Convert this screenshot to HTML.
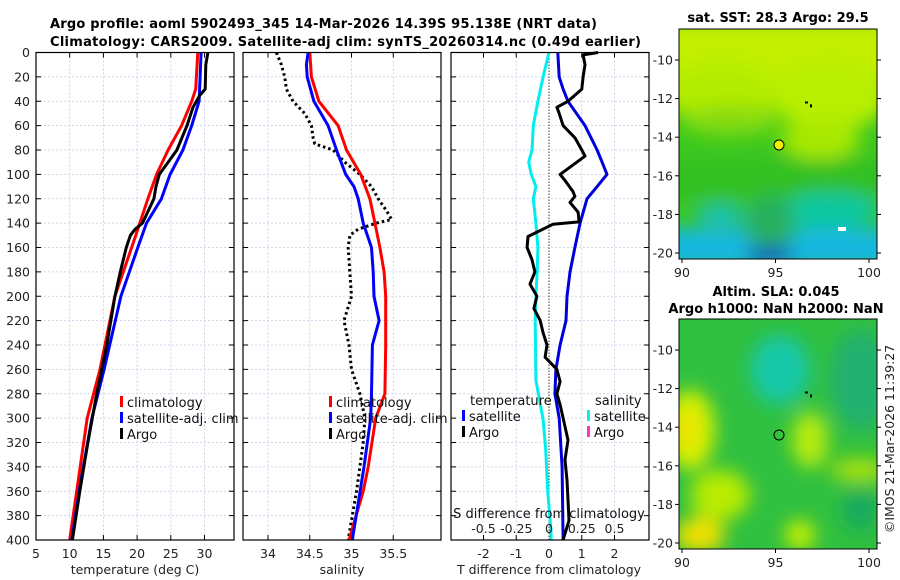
<!DOCTYPE html>
<html><head><meta charset="utf-8"><style>
html,body{margin:0;padding:0;background:#fff;}
svg{display:block;font-family:"DejaVu Sans","Liberation Sans",sans-serif;}
.tk{font-size:12.5px;fill:#222;}
.ttl{font-size:13px;font-weight:bold;fill:#000;}
.lg{font-size:13px;fill:#111;}
</style></head><body>
<svg id="fig" width="900" height="580" viewBox="0 0 900 580">
<defs>
<filter id="bl" x="-50%" y="-50%" width="200%" height="200%"><feGaussianBlur stdDeviation="9"/></filter>
<clipPath id="m1c"><rect x="679" y="29" width="198" height="230"/></clipPath>
<clipPath id="m2c"><rect x="679" y="319" width="198" height="230"/></clipPath>
</defs>
<text class="ttl" x="50" y="28" textLength="547">Argo profile: aoml 5902493_345 14-Mar-2026 14.39S 95.138E (NRT data)</text>
<text class="ttl" x="50" y="46" textLength="591">Climatology: CARS2009. Satellite-adj clim: synTS_20260314.nc (0.49d earlier)</text>
<g id="panels"></g>

<g>
<g clip-path="url(#m1c)">
<rect x="679" y="29" width="198" height="230" fill="#3cc820"/>
<g filter="url(#bl)">
<rect x="660" y="20" width="240" height="60" fill="#c4f000"/>
<ellipse cx="720" cy="90" rx="60" ry="30" fill="#b4ec00"/>
<ellipse cx="830" cy="95" rx="60" ry="35" fill="#b8ee00"/>
<ellipse cx="820" cy="140" rx="40" ry="20" fill="#a8e800"/>
<ellipse cx="730" cy="120" rx="50" ry="15" fill="#88dc10"/>
<rect x="660" y="160" width="240" height="40" fill="#30c020"/>
<ellipse cx="830" cy="210" rx="50" ry="18" fill="#10c8a0"/>
<rect x="660" y="228" width="240" height="40" fill="#14b8e0"/>
<ellipse cx="720" cy="215" rx="25" ry="10" fill="#18c0c0"/>
<ellipse cx="770" cy="225" rx="25" ry="30" fill="#28b060"/>
<ellipse cx="770" cy="255" rx="25" ry="8" fill="#1048c8"/>
</g>
</g>
<rect x="838" y="227" width="8" height="4" fill="#fff"/>
<rect x="679" y="29" width="198" height="230" fill="none" stroke="#000"/>
<circle cx="779" cy="145" r="5" fill="#f0f000" stroke="#000"/>
</g>
<text class="ttl" x="778" y="22" text-anchor="middle">sat. SST: 28.3 Argo: 29.5</text>

<g>
<g clip-path="url(#m2c)">
<rect x="679" y="319" width="198" height="230" fill="#30c040"/>
<g filter="url(#bl)">
<ellipse cx="780" cy="370" rx="30" ry="35" fill="#18c8a8"/>
<ellipse cx="860" cy="380" rx="30" ry="50" fill="#20b070"/>
<ellipse cx="690" cy="430" rx="25" ry="40" fill="#d8f000"/>
<ellipse cx="685" cy="430" rx="10" ry="20" fill="#f0e000"/>
<ellipse cx="810" cy="440" rx="18" ry="28" fill="#b8ec10"/>
<ellipse cx="860" cy="470" rx="30" ry="12" fill="#a8e010"/>
<ellipse cx="720" cy="495" rx="30" ry="25" fill="#b8ec00"/>
<ellipse cx="700" cy="535" rx="25" ry="18" fill="#f0e000"/>
<ellipse cx="800" cy="535" rx="15" ry="15" fill="#c8f000"/>
<ellipse cx="860" cy="510" rx="18" ry="20" fill="#18a860"/>
</g>
</g>
<rect x="679" y="319" width="198" height="230" fill="none" stroke="#000"/>
<circle cx="779" cy="435" r="5" fill="none" stroke="#000"/>
</g>
<text class="ttl" x="776" y="296" text-anchor="middle">Altim. SLA: 0.045</text>
<text class="ttl" x="776" y="313" text-anchor="middle">Argo h1000: NaN h2000: NaN</text>
<text class="tk" transform="translate(894,439) rotate(-90)" text-anchor="middle">©IMOS 21-Mar-2026 11:39:27</text>
<g id="mapaxes"></g>
</svg>
<script>
// ---- data ----
const climDepth = [0,30,40,60,80,100,120,140,150,200,260,300,400];
const climTemp = [29.0,28.7,28.1,26.6,24.6,22.9,21.6,20.4,19.8,16.7,14.5,12.6,10.0];
const satDepth = [0,40,60,80,100,120,140,160,200,260,300,350,400];
const satTemp = [29.5,29.2,28.1,26.8,24.9,23.6,21.4,20.1,17.6,15.1,13.3,11.7,10.3];
const argoTDepth = [0,10,30,35,45,60,80,90,100,110,120,140,145,150,160,180,200,240,280,320,360,400];
const argoTemp = [30.5,30.2,30.1,29.3,28.3,27.4,25.9,24.6,23.3,22.8,22.5,20.8,19.7,19.0,18.4,17.5,16.7,15.5,14.0,12.7,11.5,10.4];
const climSDepth = [0,20,40,60,80,100,120,140,160,180,200,240,280,300,340,360,400];
const climSal = [34.50,34.52,34.61,34.84,34.94,35.11,35.22,35.28,35.34,35.39,35.41,35.41,35.40,35.29,35.20,35.14,34.97];
const satSDepth = [0,10,20,40,60,80,100,110,120,140,160,180,200,220,240,280,300,340,400];
const satSal = [34.48,34.46,34.47,34.55,34.72,34.82,34.93,35.03,35.08,35.14,35.24,35.26,35.27,35.33,35.25,35.24,35.23,35.15,35.01];
const argoSDepth = [0,10,20,30,40,50,60,70,75,80,90,100,110,120,130,137,140,145,150,160,180,200,220,240,260,280,300,320,340,360,380,400];
const argoSal = [34.10,34.16,34.20,34.22,34.30,34.44,34.52,34.54,34.56,34.78,34.92,35.10,35.24,35.32,35.42,35.48,35.30,35.08,34.98,34.96,34.98,35.00,34.91,34.97,35.00,35.10,35.16,35.14,35.10,35.06,35.01,34.96];
const dDepthArgo = [0,2,10,20,30,35,40,45,50,60,70,80,85,90,100,105,114,118,123,131,139,141,151,160,170,180,190,200,210,220,230,240,250,260,270,280,289,300,318,334,351,367,384,400];
const dTempArgo = [1.5,1.04,1.1,1.04,1.0,0.79,0.58,0.24,0.31,0.43,0.79,1.0,1.1,0.85,0.34,0.49,0.73,0.79,0.64,0.89,0.92,0.12,-0.64,-0.67,-0.52,-0.43,-0.58,-0.37,-0.46,-0.27,-0.18,-0.06,-0.12,0.24,0.34,0.24,0.34,0.43,0.58,0.49,0.55,0.58,0.61,0.43];
const dDepthSat = [0,20,30,40,60,80,90,100,110,120,140,160,180,200,220,240,260,280,300,340,400];
const dTempSat = [0.27,0.31,0.43,0.58,1.1,1.47,1.62,1.77,1.47,1.16,0.95,0.79,0.64,0.55,0.52,0.34,0.21,0.18,0.31,0.4,0.43];
const dSDepthSat = [0,20,40,60,80,90,100,110,120,140,160,180,200,220,269,301,326,360,392,400];
const dSalSat = [0,-0.045,-0.085,-0.12,-0.13,-0.155,-0.135,-0.1,-0.12,-0.1,-0.085,-0.09,-0.1,-0.105,-0.1,-0.045,-0.025,-0.01,0.015,0.015];
const depthTicks = [0,20,40,60,80,100,120,140,160,180,200,220,240,260,280,300,320,340,360,380,400];
const tempTicks = [5,10,15,20,25,30];
const salTicks = [34,34.5,35,35.5];
const salTickLabels = ["34","34.5","35","35.5"];
const dTTicks = [-2,-1,0,1,2];
const dSTicks = [-0.5,-0.25,0,0.25,0.5];
const dSTickLabels = ["-0.5","-0.25","0","0.25","0.5"];
const lonTicks = [90,95,100];
const latTicks = [-10,-12,-14,-16,-18,-20];

// ---- scales ----
const TOP=52.5, BOT=540;
const yD = d => TOP + d*(BOT-TOP)/400;
const xT = t => 36 + (t-5)*6.74;
const xS = s => 268 + (s-34)*83.5;
const xDT = t => 549 + t*32.75;
const xDS = s => 549 + s*131;
const NS='http://www.w3.org/2000/svg';
const root=document.getElementById('panels');
function mk(tag,attrs,parent){const e=document.createElementNS(NS,tag);for(const k in attrs)e.setAttribute(k,attrs[k]);(parent||root).appendChild(e);return e;}
function txt(s,x,y,cls,anchor,parent){const e=mk('text',{x:x,y:y,'class':cls,'text-anchor':anchor||'start'},parent);e.textContent=s;return e;}

const panels=[{x0:36,x1:234,name:'temperature-panel'},{x0:243,x1:441,name:'salinity-panel'},{x0:451,x1:649,name:'difference-panel'}];
panels.forEach((p,i)=>{
  const g=mk('g',{});
  
  
  p.g=g;
  depthTicks.forEach(d=>{
    if(d>0&&d<400) mk('line',{x1:p.x0,x2:p.x1,y1:yD(d),y2:yD(d),stroke:'#c4cce8','stroke-width':0.8,'stroke-dasharray':'2,2'},g);
    mk('line',{x1:p.x0,x2:p.x0+5,y1:yD(d),y2:yD(d),stroke:'#000'},g);
    mk('line',{x1:p.x1-5,x2:p.x1,y1:yD(d),y2:yD(d),stroke:'#000'},g);
  });
});
function vgrid(p,xs){xs.forEach(x=>{mk('line',{x1:x,x2:x,y1:TOP,y2:BOT,stroke:'#c4cce8','stroke-width':0.8,'stroke-dasharray':'2,2'},p.g);mk('line',{x1:x,x2:x,y1:BOT-5,y2:BOT,stroke:'#000'},p.g);mk('line',{x1:x,x2:x,y1:TOP,y2:TOP+5,stroke:'#000'},p.g);});}
vgrid(panels[0],tempTicks.filter(t=>t>5).map(xT));
vgrid(panels[1],salTicks.map(xS));
vgrid(panels[2],dTTicks.filter(t=>t!==0).map(xDT));
depthTicks.forEach(d=>{const e=txt(String(d),30,yD(d)+4.5,'tk','end');});
tempTicks.forEach(t=>{const e=txt(String(t),xT(t),558,'tk','middle');});
salTicks.forEach((s,i)=>{const e=txt(salTickLabels[i],xS(s),558,'tk','middle');});
dTTicks.forEach(t=>{const e=txt(String(t),xDT(t),558,'tk','middle');});
dSTicks.forEach((s,i)=>{const e=txt(dSTickLabels[i],xDS(s),533,'tk','middle');});
let e;
e=txt('temperature (deg C)',135,574,'tk','middle');
e=txt('salinity',342,574,'tk','middle');
e=txt('T difference from climatology',549,574,'tk','middle');
e=txt('S difference from climatology',549,518,'lg','middle');
mk('line',{x1:549,x2:549,y1:TOP,y2:BOT,stroke:'#334422','stroke-width':1,'stroke-dasharray':'1.5,1.5'},panels[2].g);

function line(depths,vals,xf,color,name,g,dash){
  const pts=depths.map((d,i)=>xf(vals[i]).toFixed(1)+','+yD(d).toFixed(1)).join(' ');
  const a={points:pts,fill:'none',stroke:color,'stroke-width':3,'stroke-linejoin':'round'};
  if(dash){a['stroke-dasharray']='2.5,3';}
  const el=mk('polyline',a,g);
  
  
}
line(climDepth,climTemp,xT,'#ff0000','climatology-temperature-line',panels[0].g);
line(satDepth,satTemp,xT,'#0000ff','satellite-temperature-line',panels[0].g);
line(argoTDepth,argoTemp,xT,'#000','argo-temperature-line',panels[0].g);
line(argoSDepth,argoSal,xS,'#000','argo-salinity-line',panels[1].g,true);
line(climSDepth,climSal,xS,'#ff0000','climatology-salinity-line',panels[1].g);
line(satSDepth,satSal,xS,'#0000ff','satellite-salinity-line',panels[1].g);
line(dSDepthSat,dSalSat,xDS,'#00eeee','satellite-salinity-diff-line',panels[2].g);
line(dDepthSat,dTempSat,xDT,'#0000dd','satellite-temperature-diff-line',panels[2].g);
line(dDepthArgo,dTempArgo,xDT,'#000','argo-temperature-diff-line',panels[2].g);

panels.forEach(p=>mk('rect',{x:p.x0,y:TOP,width:p.x1-p.x0,height:BOT-TOP,fill:'none',stroke:'#000','stroke-width':1.2},p.g));

function legItem(x,y,color,label,name){
  const g=mk('g',{});
  
  
  mk('rect',{x:x,y:y-11,width:3,height:11,fill:color},g);
  txt(label,x+7,y,'lg','start',g);
}
legItem(120,407,'#ff0000','climatology','legend-climatology');
legItem(120,423,'#0000ff','satellite-adj. clim','legend-satellite-adj');
legItem(120,439,'#000','Argo','legend-argo');
legItem(329,407,'#ff0000','climatology','legend-climatology-sal');
legItem(329,423,'#0000ff','satellite-adj. clim','legend-satellite-adj-sal');
legItem(329,439,'#000','Argo','legend-argo-sal');
e=txt('temperature',470,405,'lg');
legItem(462,421,'#0000ff','satellite','legend-t-satellite');
legItem(462,437,'#000','Argo','legend-t-argo');
e=txt('salinity',595,405,'lg');
legItem(587,421,'#00eeee','satellite','legend-s-satellite');
legItem(587,437,'#ff33cc','Argo','legend-s-argo');

const ma=document.getElementById('mapaxes');
const xLon=l=>682+(l-90)*18.7;
[[29,259,60],[319,549,350]].forEach(([t,b,y10])=>{
  const yLat=la=>y10+(-10-la)*19.3;
  lonTicks.forEach(l=>{mk('line',{x1:xLon(l),x2:xLon(l),y1:b,y2:b+4,stroke:'#000'},ma);const q=txt(String(l),xLon(l),b+18,'tk','middle',ma);});
  latTicks.forEach(la=>{const yy=yLat(la);if(yy<t||yy>b)return;mk('line',{x1:675,x2:679,y1:yy,y2:yy,stroke:'#000'},ma);mk('line',{x1:877,x2:881,y1:yy,y2:yy,stroke:'#000'},ma);const q=txt(String(la),673,yy+4.5,'tk','end',ma);});
  mk('rect',{x:805,y:yLat(-12.2)-1,width:3,height:2,fill:'#000'},ma);
  mk('rect',{x:810,y:yLat(-12.3),width:2,height:3,fill:'#000'},ma);
});
</script>
</body></html>
